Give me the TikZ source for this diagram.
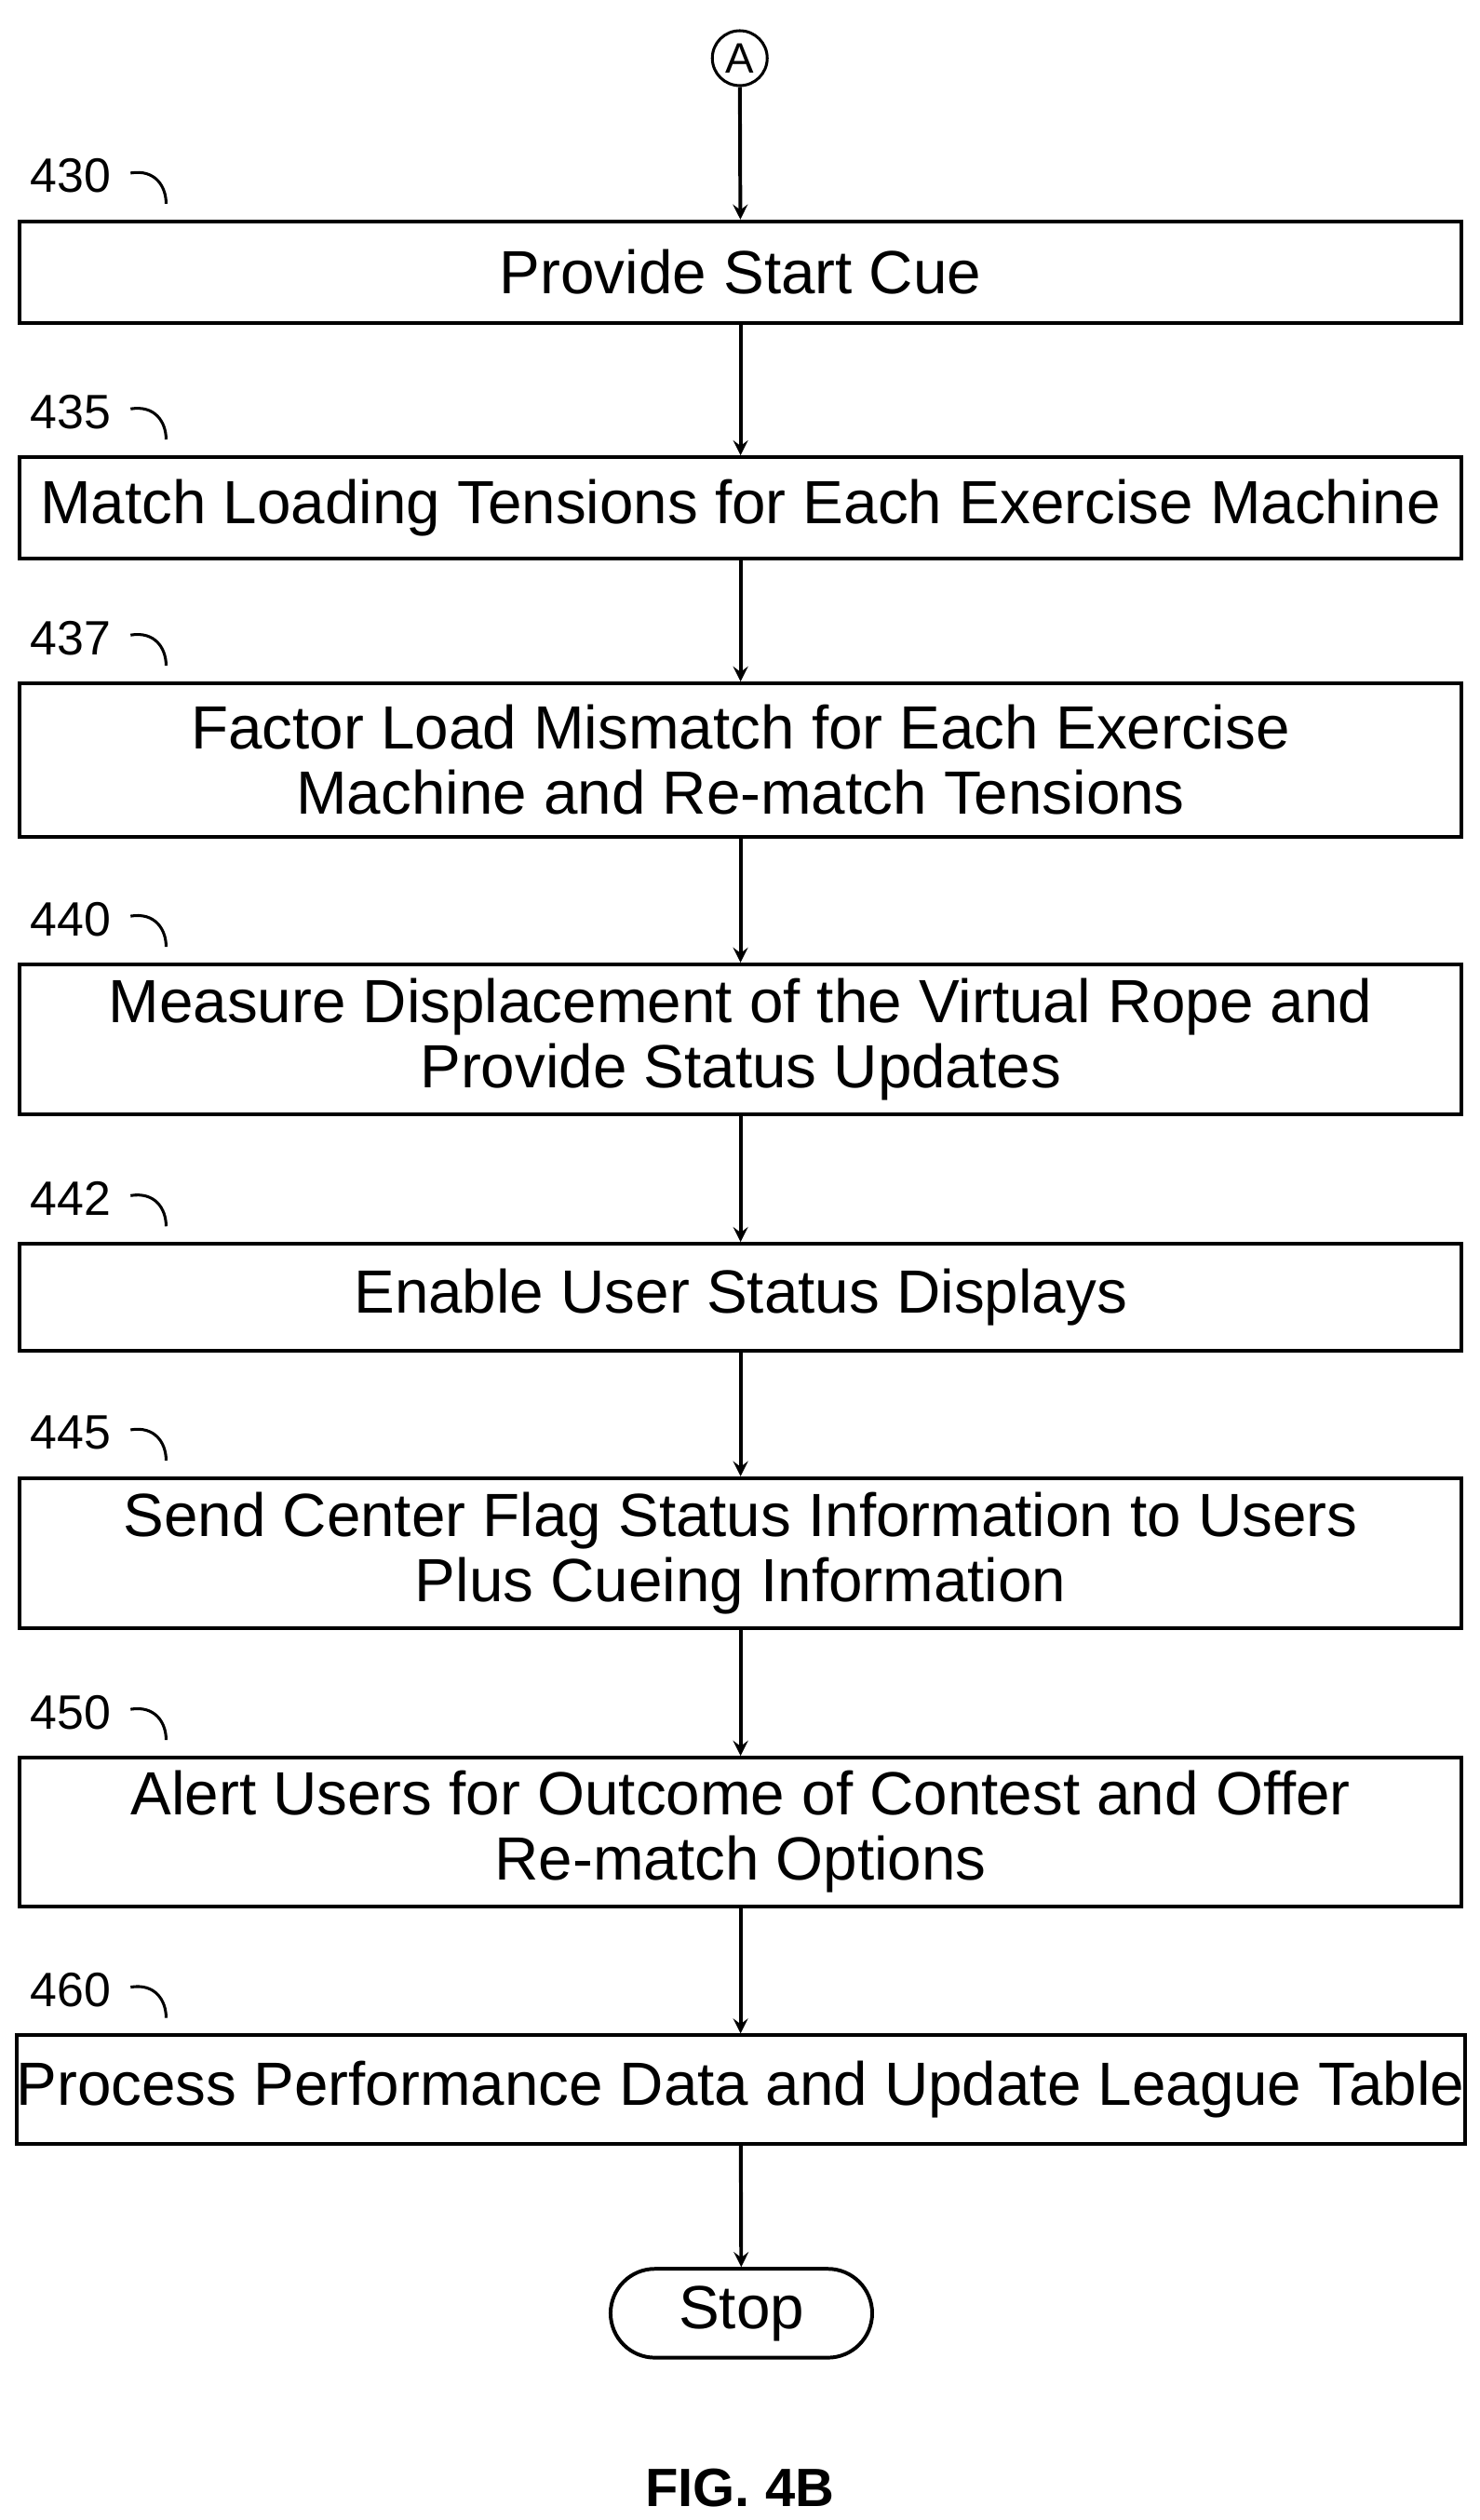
\documentclass[tikz,border=0pt]{standalone}
\usepackage{fontspec}
\setmainfont{Liberation Sans}
\tikzset{>=stealth}
\tikzset{
  stepbox/.style={draw, line width=1.3pt, minimum width=17.86cm, align=center,
    font=\fontsize{21.5}{23}\selectfont, inner sep=0pt},
  reflabel/.style={font=\fontsize{17}{18}\selectfont, anchor=east},
}

\begin{document}
\begin{tikzpicture}[x=0.02cm, y=-0.02cm, line width=1.3pt]
    \useasboundingbox (0,0) rectangle (916,1560);
    \node[draw, circle, line width=1pt, minimum size=0.68cm, inner sep=0pt,
      font=\fontsize{15}{16}\selectfont] (A) at (458,36) {A};
    \node[stepbox, minimum height=1.26cm] (s430) at (458.5,168.5) {Provide Start Cue};
    \node[stepbox, minimum height=1.26cm] (s435) at (458.5,314.5) {Match Loading Tensions for Each Exercise Machine};
    \node[stepbox, minimum height=1.9cm] (s437) at (458.5,470.5) {Factor Load Mismatch for Each Exercise\\Machine and Re-match Tensions};
    \node[stepbox, minimum height=1.86cm] (s440) at (458.5,643.5) {Measure Displacement of the Virtual Rope and\\Provide Status Updates};
    \node[stepbox, minimum height=1.32cm] (s442) at (458.5,803) {Enable User Status Displays};
    \node[stepbox, minimum height=1.86cm] (s445) at (458.5,961.5) {Send Center Flag Status Information to Users\\Plus Cueing Information};
    \node[stepbox, minimum height=1.84cm] (s450) at (458.5,1134) {Alert Users for Outcome of Contest and Offer\\Re-match Options};
    \node[stepbox, minimum height=1.34cm] (s460) at (458.5,1293.5) {Process Performance Data and Update League Table};
    \node[draw, rounded corners=0.55cm, minimum width=3.24cm,
      minimum height=1.1cm, font=\fontsize{21.5}{23}\selectfont] (stop) at (459,1432) {Stop};
    \node[font=\bfseries\fontsize{19}{21}\selectfont] (fig) at (458,1540) {FIG. 4B};
    % connectors
    \draw[->] (A) -- (s430);
    \draw[->] (s430) -- (s435);
    \draw[->] (s435) -- (s437);
    \draw[->] (s437) -- (s440);
    \draw[->] (s440) -- (s442);
    \draw[->] (s442) -- (s445);
    \draw[->] (s445) -- (s450);
    \draw[->] (s450) -- (s460);
    \draw[->] (s460) -- (stop);
    % reference numerals
    \foreach \num/\stepname in {430/s430, 435/s435, 437/s437, 440/s440, 442/s442, 445/s445, 450/s450, 460/s460}{
      \node[reflabel] (l\num) at ([xshift=-7.66cm, yshift=0.54cm]\stepname.north) {\num};
      \draw[line width=1pt] ([xshift=3pt, yshift=1pt]l\num.east) .. controls +(0.3cm,0.05cm) and +(0cm,0.22cm) .. ++(0.44cm,-0.38cm);
    }
\end{tikzpicture}
\end{document}
